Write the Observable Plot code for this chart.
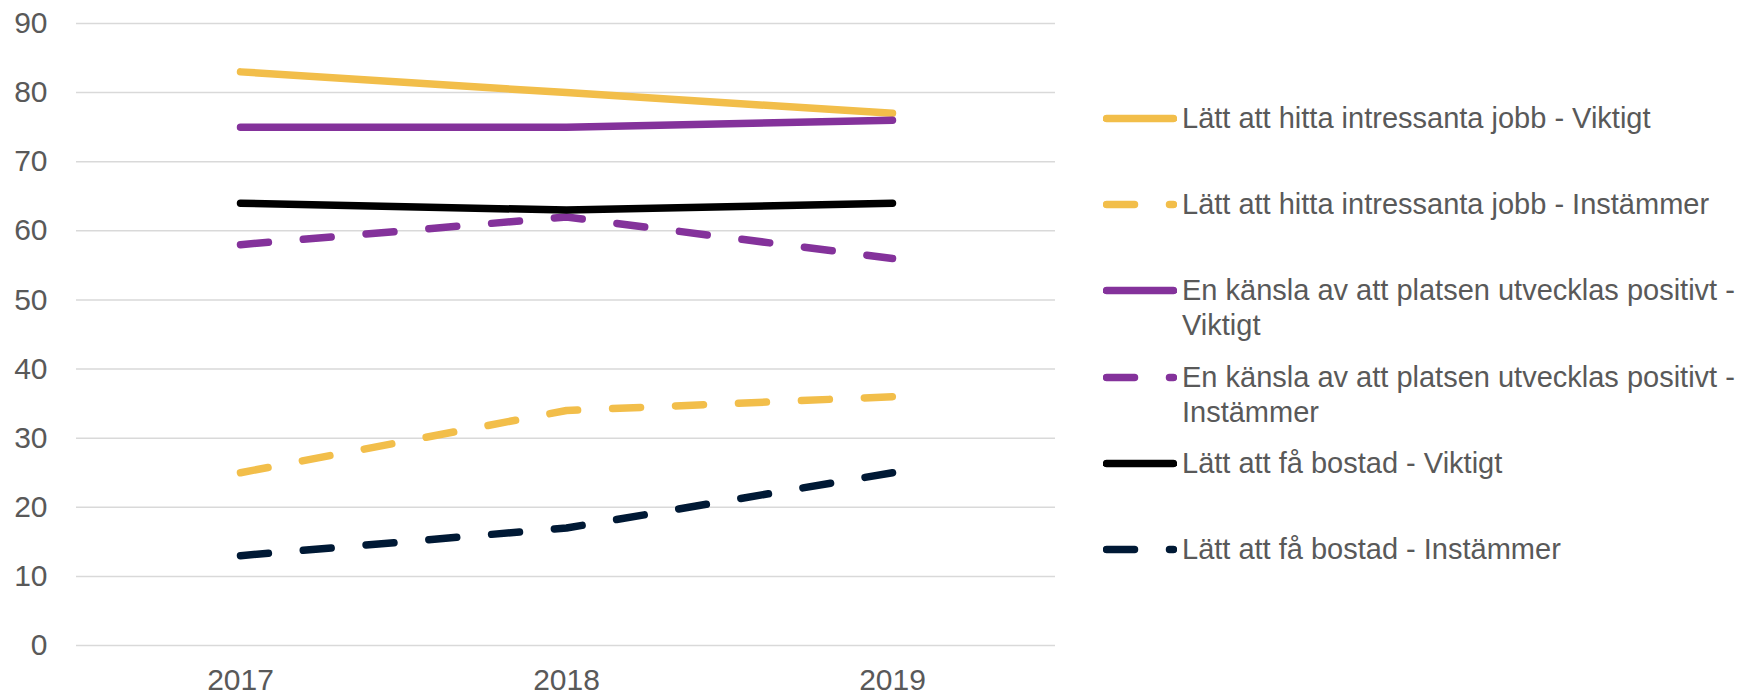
<!DOCTYPE html>
<html>
<head>
<meta charset="utf-8">
<script src="https://cdn.jsdelivr.net/npm/d3@7"></script>
<script src="https://cdn.jsdelivr.net/npm/@observablehq/plot@0.6"></script>
<style>
  html, body { margin: 0; padding: 0; background: #fff; }
  #wrap { position: relative; width: 1744px; height: 697px; font-family: "Liberation Sans", Arial, sans-serif; }
  #legend { position: absolute; left: 1103px; top: 100.5px; display: flex; flex-direction: column; }
  .item { display: flex; align-items: flex-start; height: 86.4px; }
  .item svg { flex: none; width: 74px; height: 35px; }
  .lbl { margin-left: 5px; font-size: 29px; line-height: 35px; color: #595959; white-space: nowrap; }
</style>
</head>
<body>
<div id="wrap"><div id="chart"></div><div id="legend"></div></div>
<script>
// ---- data ----
const years = ["2017", "2018", "2019"];
const seriesNames = [
  "Lätt att hitta intressanta jobb - Viktigt",
  "Lätt att hitta intressanta jobb - Instämmer",
  "En känsla av att platsen utvecklas positivt - Viktigt",
  "En känsla av att platsen utvecklas positivt - Instämmer",
  "Lätt att få bostad - Viktigt",
  "Lätt att få bostad - Instämmer"
];
const jobbViktigt = [83, 80, 77];
const jobbInstammer = [25, 34, 36];
const platsViktigt = [75, 75, 76];
const platsInstammer = [58, 62, 56];
const bostadViktigt = [64, 63, 64];
const bostadInstammer = [13, 17, 25];
const seriesValues = [jobbViktigt, jobbInstammer, platsViktigt, platsInstammer, bostadViktigt, bostadInstammer];
const seriesColors = ["#F2BE4A", "#F2BE4A", "#84329B", "#84329B", "#000000", "#001935"];
const seriesDashed = [false, true, false, true, false, true];
const yTicks = [0, 10, 20, 30, 40, 50, 60, 70, 80, 90];

// ---- table ----
const rows = [];
seriesNames.forEach((name, i) => {
  years.forEach((yr, j) => rows.push({series: name, year: yr, value: seriesValues[i][j]}));
});

const DASH = "28,35";
const lineMarks = seriesNames.map((name, i) =>
  Plot.line(rows.filter(r => r.series === name), {
    x: "year", y: "value",
    stroke: seriesColors[i],
    strokeWidth: 7.5,
    strokeDasharray: seriesDashed[i] ? DASH : null,
    strokeLinecap: "round",
    strokeLinejoin: "round"
  })
);

const chart = Plot.plot({
  width: 1744,
  height: 697,
  marginLeft: 76,
  marginRight: 689,
  marginTop: 23,
  marginBottom: 52,
  style: {fontFamily: "'Liberation Sans', Arial, sans-serif", fontSize: "30px", color: "#595959", background: "transparent"},
  x: {type: "point", domain: years, padding: 0.5, label: null},
  y: {domain: [0, 90], label: null},
  marks: [
    Plot.gridY(yTicks, {stroke: "#d9d9d9", strokeOpacity: 1, strokeWidth: 1.5}),
    Plot.axisY(yTicks, {tickSize: 0, tickPadding: 29, fontSize: 30, label: null}),
    Plot.axisX({tickSize: 0, tickPadding: 23, fontSize: 30, label: null}),
    ...lineMarks
  ]
});
document.getElementById("chart").appendChild(chart);

// ---- legend ----
const legend = d3.select("#legend");
seriesNames.forEach((name, i) => {
  const item = legend.append("div").attr("class", "item");
  const svg = item.append("svg").attr("viewBox", "0 0 74 35");
  svg.append("line")
    .attr("x1", 3.5).attr("x2", 70.5).attr("y1", 17.5).attr("y2", 17.5)
    .attr("stroke", seriesColors[i]).attr("stroke-width", 7.5)
    .attr("stroke-linecap", "round")
    .attr("stroke-dasharray", seriesDashed[i] ? DASH : null);
  const lbl = item.append("div").attr("class", "lbl");
  // wrap long labels after the " - " separator
  const parts = name.length > 45 ? [name.slice(0, name.lastIndexOf(" - ") + 2), name.slice(name.lastIndexOf(" - ") + 3)] : [name];
  parts.forEach((p, k) => {
    if (k > 0) lbl.append("br");
    lbl.append("span").text(p);
  });
});
</script>
</body>
</html>
